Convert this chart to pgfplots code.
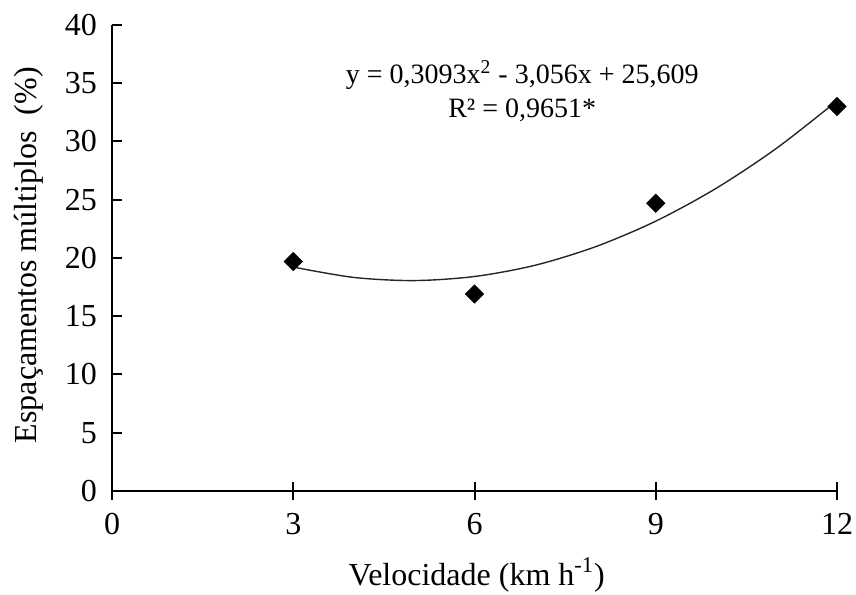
\documentclass[border=0pt]{standalone}
\usepackage{fontspec}
\setmainfont{Liberation Serif}
\usepackage{pgfplots}
\pgfplotsset{compat=1.18}

\begin{document}
\fontsize{16pt}{19pt}\selectfont
\begin{tikzpicture}
\begin{axis}[
  scale only axis,
  width=362.5pt,
  height=233pt,
  xmin=0, xmax=12,
  ymin=0, ymax=40,
  xtick={0,3,6,9,12},
  ytick={0,5,...,40},
  axis x line*=bottom,
  axis y line*=left,
  axis line style={black, line width=1pt, -},
  tick style={black, line width=1pt},
  ytick align=inside,
  xtick align=center,
  major tick length=5pt,
  xtick style={/pgfplots/major tick length=9pt},
  tick label style={font=\fontsize{16pt}{19pt}\selectfont},
  yticklabel style={xshift=-2pt},
  xticklabel style={yshift=-3pt, inner xsep=0pt},
  /pgf/number format/assume math mode=true,
  xlabel={Velocidade (km h\textsuperscript{-1})},
  ylabel={Espaçamentos múltiplos\ \ (\%)},
  label style={font=\fontsize{16pt}{19pt}\selectfont, inner sep=0pt},
  xlabel style={at={(axis description cs:0.503,-0.18)}, anchor=center},
  ylabel style={at={(axis description cs:-0.1145,0.506)}, anchor=center},
  clip=false,
]
% fitted curve
\addplot[black!85, line width=0.7pt, smooth] coordinates {
  (3,19.22)(4,18.33)(5,18.06)(6,18.41)(7,19.37)(8,20.96)(9,23.16)(10,25.98)(11,29.42)(12,33.48)
};
% observed data
\addplot[only marks, mark=square*, mark size=3.2pt, mark options={fill=black, draw=black, rotate=45}] coordinates {
  (3,19.7)(6,16.9)(9,24.7)(12,33.0)
};
\node[align=center, font=\fontsize{14pt}{17pt}\selectfont] at (axis cs:6.79,34.3)
  {y = 0,3093x\textsuperscript{2} - 3,056x + 25,609\\R² = 0,9651*};
% page margins as in the reference
\path (rel axis cs:-0.1545,-0.2232) (rel axis cs:1.0262,1.0536);
\end{axis}
\end{tikzpicture}
\end{document}
